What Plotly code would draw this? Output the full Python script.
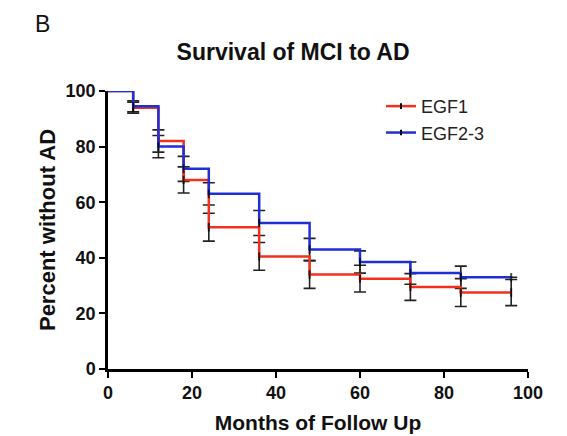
import plotly.graph_objects as go

months = [0, 6, 12, 18, 24, 36, 48, 60, 72, 84, 96]
egf1 = [100, 94, 82, 68, 51, 40.5, 34, 32.5, 29.5, 27.5, 27.5]
egf23 = [100, 94.5, 80, 72, 63, 52.5, 43, 38.5, 34.5, 33, 33]

err_months = [6, 12, 18, 24, 36, 48, 60, 72, 84, 96]
egf1_err = [2, 4, 4.7, 5, 5, 5, 4.8, 4.8, 5, 4.7]
egf23_err = [2, 4, 4.5, 4, 4.5, 4, 4, 4, 4, 0]

series_names = ["EGF1", "EGF2-3"]

RED = "#f2301d"
BLUE = "#1f2fd6"
FONT = "Liberation Sans, Arial, sans-serif"

fig = go.Figure()

for vals, errs in [(egf1, egf1_err), (egf23, egf23_err)]:
    fig.add_trace(go.Scatter(
        x=err_months, y=vals[1:], mode="markers",
        marker=dict(size=1, color="rgba(0,0,0,0)"),
        error_y=dict(type="data", array=errs, color="#222", thickness=1.6, width=6),
        showlegend=False, hoverinfo="skip", cliponaxis=False))

tick_marker = dict(symbol="line-ns", size=[0] + [6] * 10, color="black",
                   line=dict(color="black", width=2))

for vals, name, col in [(egf1, series_names[0], RED), (egf23, series_names[1], BLUE)]:
    fig.add_trace(go.Scatter(
        x=months, y=vals, mode="lines+markers", name=name,
        line=dict(color=col, width=2.5, shape="hv"), marker=tick_marker,
        showlegend=False, cliponaxis=False))

# legend-only entries (line with small censoring tick)
for name, col in [(series_names[0], RED), (series_names[1], BLUE)]:
    fig.add_trace(go.Scatter(
        x=[None], y=[None], mode="lines+markers", name=name,
        line=dict(color=col, width=2.5),
        marker=dict(symbol="line-ns", size=4, color="black",
                    line=dict(color="black", width=2))))

axis_common = dict(
    showline=True, linecolor="black", linewidth=2.5,
    ticks="outside", ticklen=6, tickwidth=2, tickcolor="black",
    showgrid=False, zeroline=False, automargin=False,
    tickfont=dict(family=FONT, size=18, color="#111", weight="bold"),
)

fig.update_layout(
    width=559, height=428,
    margin=dict(l=100, r=39, t=83, b=67, autoexpand=False),
    paper_bgcolor="white", plot_bgcolor="white",
    font=dict(family=FONT, color="#111"),
    title=dict(text="<b>Survival of MCI to AD</b>", x=0.51, xanchor="center",
               y=0.897, yanchor="middle",
               font=dict(family=FONT, size=23, color="#111")),
    xaxis=dict(range=[0, 100], tickvals=[0, 20, 40, 60, 80, 100],
               title=dict(text="<b>Months of Follow Up</b>", standoff=13,
                          font=dict(family=FONT, size=21, color="#111")),
               **axis_common),
    yaxis=dict(range=[0, 100], tickvals=[0, 20, 40, 60, 80, 100],
               title=dict(text="<b>Percent without AD</b>", standoff=4,
                          font=dict(family=FONT, size=22, color="#111")),
               **axis_common),
    legend=dict(x=0.65, y=1.011, xanchor="left", yanchor="top",
                bgcolor="rgba(0,0,0,0)", tracegroupgap=0,
                font=dict(family=FONT, size=18, color="#222")),
    annotations=[dict(text="B", xref="paper", yref="paper", x=-0.179, y=1.24,
                      xanchor="left", yanchor="middle", showarrow=False,
                      font=dict(family=FONT, size=23, color="#111"))],
)

fig.write_html("out.html")
